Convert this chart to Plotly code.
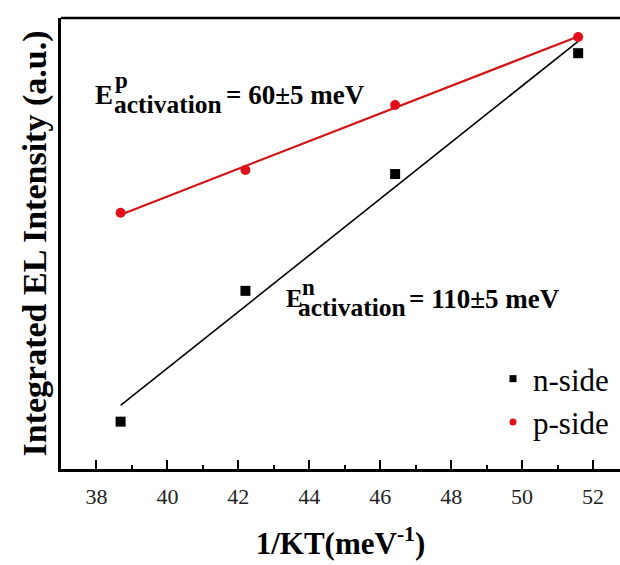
import numpy as np
import plotly.graph_objects as go

# 1/kT values (meV^-1)
inv_kt = [38.68, 42.20, 46.42, 51.58]
# Integrated EL intensity (arbitrary units, log scale-like)
n_side = [1.05, 3.95, 6.54, 9.22]
p_side = [5.68, 6.63, 8.07, 9.58]
x_ticks = [38, 40, 42, 44, 46, 48, 50, 52]

FONT = "Times New Roman, Liberation Serif, serif"
W, H = 620, 565
L, R, T, B = 61, 0, 18, 96
X_RANGE = [37.0, 52.76]
Y_RANGE = [0, 10]

xa = np.array(inv_kt)
n_fit = np.polyfit(xa, np.array(n_side), 1)
p_fit = np.polyfit(xa, np.array(p_side), 1)
xf = np.array([inv_kt[0], inv_kt[-1]])

fig = go.Figure()
fig.add_trace(go.Scatter(x=xf, y=np.polyval(n_fit, xf), mode="lines",
                         line=dict(color="black", width=1.6), showlegend=False, hoverinfo="skip"))
fig.add_trace(go.Scatter(x=xf, y=np.polyval(p_fit, xf), mode="lines",
                         line=dict(color="#d41414", width=2.2), showlegend=False, hoverinfo="skip"))
fig.add_trace(go.Scatter(x=inv_kt, y=n_side, mode="markers", name="n-side", showlegend=False,
                         marker=dict(symbol="square", size=10, color="black")))
fig.add_trace(go.Scatter(x=inv_kt, y=p_side, mode="markers", name="p-side", showlegend=False,
                         marker=dict(symbol="circle", size=10, color="#e0101a")))
# legend entries (smaller markers like the original)
fig.add_trace(go.Scatter(x=[None], y=[None], mode="markers", name="n-side",
                         marker=dict(symbol="square", size=7, color="black")))
fig.add_trace(go.Scatter(x=[None], y=[None], mode="markers", name="p-side",
                         marker=dict(symbol="circle", size=7, color="#e0101a")))

pw, ph = W - L - R, H - T - B
def px(x):
    return (x - L) / pw
def py(y):
    return (H - B - y) / ph

def ann(text, x, y, size, bold=True, anchor="left"):
    return dict(text=("<b>%s</b>" % text) if bold else text, x=px(x), y=py(y),
                xref="paper", yref="paper", xanchor=anchor, yanchor="middle",
                showarrow=False, font=dict(family=FONT, size=size, color="black"))

annotations = [
    ann("E", 93, 95, 27),
    ann("p", 113, 81, 23),
    ann("activation", 112, 104, 25.5),
    ann("= 60\u00b15 meV", 224, 95, 27),
    ann("E", 284, 298, 25),
    ann("n", 300, 287, 23),
    ann("activation", 296, 307, 25.5),
    ann("= 110\u00b15 meV", 407, 299, 27),
]

fig.update_layout(
    width=W, height=H,
    margin=dict(l=L, r=R, t=T, b=B, pad=0),
    paper_bgcolor="white", plot_bgcolor="white",
    font=dict(family=FONT, color="black"),
    xaxis=dict(range=X_RANGE, tickvals=x_ticks, ticks="inside", ticklen=9, tickwidth=2,
               tickcolor="black", showline=True, linecolor="black", linewidth=2.5,
               mirror=False, showgrid=False, zeroline=False,
               tickfont=dict(family=FONT, size=22, color="#222"), ticklabelstandoff=6,
               minor=dict(dtick=1, tick0=37, ticks="inside", ticklen=4, tickwidth=2, tickcolor="black"),
               title=dict(text="<b>1/KT(meV<sup>-1</sup>)</b>", font=dict(family=FONT, size=31), standoff=25)),
    yaxis=dict(range=Y_RANGE, showticklabels=False, ticks="", showline=True, linecolor="black",
               linewidth=2.5, mirror=False, showgrid=False, zeroline=False,
               title=dict(text="<b>Integrated EL Intensity (a.u.)</b>", font=dict(family=FONT, size=34), standoff=2)),
    legend=dict(x=px(493), y=py(352), xanchor="left", yanchor="top", bgcolor="rgba(0,0,0,0)",
                font=dict(family=FONT, size=31, color="black"), itemwidth=30, tracegroupgap=0),
    annotations=annotations,
    shapes=[dict(type="line", xref="paper", yref="paper", x0=0, x1=1, y0=1, y1=1,
                 line=dict(color="black", width=2.5))],
)

fig.write_html("out.html")
